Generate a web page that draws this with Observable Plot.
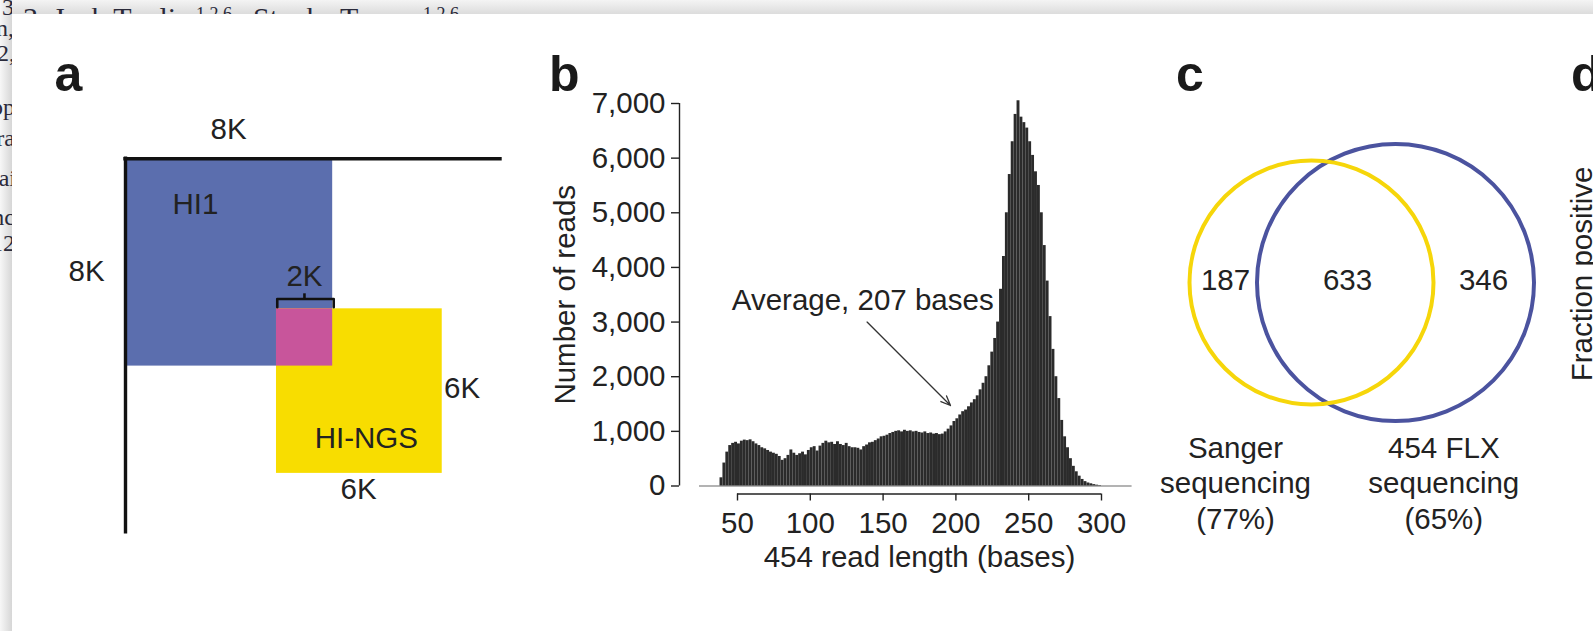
<!DOCTYPE html>
<html>
<head>
<meta charset="utf-8">
<script src="https://cdn.jsdelivr.net/npm/d3@7"></script>
<script src="https://cdn.jsdelivr.net/npm/@observablehq/plot@0.6"></script>
<style>
  html, body { margin:0; padding:0; background:#fff; }
  #page { position:relative; width:1593px; height:631px; overflow:hidden; background:#fff; font-family:"Liberation Sans", Arial, Helvetica, sans-serif; }
  #topstrip { position:absolute; left:0; top:0; width:1593px; height:14px; background:linear-gradient(to bottom,#f4f4f4,#dcdcdc); overflow:hidden; }
  #leftstrip { position:absolute; left:0; top:0; width:12px; height:631px; background:linear-gradient(to right,#f7f7f7,#d6d6d6); overflow:hidden; }
  .bgtext { position:absolute; font-family:"Liberation Serif","DejaVu Serif",serif; color:#2a2a3a; white-space:nowrap; line-height:20px; }
  #panel { position:absolute; left:12px; top:14px; width:1581px; height:617px; background:#fff; overflow:hidden; }
  .letter { position:absolute; top:35.2px; font-weight:bold; font-size:50px; line-height:1; color:#1a1a1a; }
</style>
</head>
<body>
<div id="page">
  <div id="topstrip">
    <div class="bgtext" style="left:23px; top:8px; font-size:30px;">3, Jack Toolin</div>
    <div class="bgtext" style="left:196px; top:4px; font-size:18px;">1,2,6</div>
    <div class="bgtext" style="left:238px; top:8px; font-size:30px;">, Stocks Tan</div>
    <div class="bgtext" style="left:423px; top:4px; font-size:18px;">1,2,6</div>
  </div>
  <div id="leftstrip">
    <div class="bgtext" style="right:-2px; top:-3px; font-size:24px;">al 3</div>
    <div class="bgtext" style="right:-2px; top:18px; font-size:24px;">son,</div>
    <div class="bgtext" style="right:-3px; top:43px; font-size:24px;">12,</div>
    <div class="bgtext" style="right:-3px; top:97px; font-size:24px;">app</div>
    <div class="bgtext" style="right:-3px; top:128px; font-size:24px;">ra</div>
    <div class="bgtext" style="right:-4px; top:168px; font-size:24px;">mai</div>
    <div class="bgtext" style="right:-3px; top:207px; font-size:24px;">nc</div>
    <div class="bgtext" style="right:-3px; top:233px; font-size:24px;">12</div>
  </div>
  <div id="panel">
    <div class="letter" style="left:42.5px;">a</div>
    <div class="letter" style="left:537px;">b</div>
    <div class="letter" style="left:1164px;">c</div>
    <div class="letter" style="left:1559px;">d</div>
  </div>
</div>
<script>
// ---------------- Panel a: library overlap (sizes in thousands of clones) ----------------
const regionNames = ["HI1", "HI-NGS", "Overlap"];
const regionX1 = [0, 5.83, 5.83];
const regionX2 = [8, 12.23, 8];
const regionY1 = [0, 5.79, 5.79];
const regionY2 = [8, 12.14, 8];
const aLabelText = ["8K", "8K", "HI1", "2K", "6K", "HI-NGS", "6K"];
const aLabelX = [3.98, -1.5, 2.7, 6.91, 13.0, 9.3, 9.0];
const aLabelY = [-1.13, 4.35, 1.77, 4.54, 8.87, 10.8, 12.77];
const aAxisExtent = [14.48, 14.41];
const bracketX = [5.86, 5.86, 8.04, 8.04];
const bracketY = [5.73, 5.41, 5.41, 5.73];
const bracketTick = {x: 6.91, y1: 5.21, y2: 5.41};

// ---------------- Panel b: 454 read length histogram ----------------
const binWidth = 2;
const binStart = d3.range(38, 300, binWidth);
const readCounts = [
  150, 420, 620, 740, 780, 800, 770, 820, 840, 830,
  845, 810, 770, 740, 700, 680, 650, 620, 600, 580,
  540, 470, 500, 560, 660, 600, 560, 590, 620, 570,
  650, 700, 720, 640, 730, 780, 820, 790, 800, 760,
  810, 760, 740, 780, 720, 700, 700, 690, 660, 720,
  750, 790, 800, 830, 860, 900, 910, 930, 960, 980,
  1000, 1010, 990, 1020, 1000, 1010, 990, 1000, 980, 970,
  990, 960, 970, 950, 960, 940, 950, 990, 1040, 1100,
  1180, 1230, 1300, 1360, 1390, 1450, 1520, 1580, 1650, 1760,
  1880, 2000, 2200, 2450, 2700, 3000, 3600, 4200, 5000, 5700,
  6300, 6800, 7050, 6750, 6650, 6550, 6300, 6050, 5750, 5500,
  5000, 4400, 3750, 3100, 2500, 2000, 1600, 1200, 900, 700,
  500, 360, 260, 180, 120, 80, 55, 40, 25, 15, 8
];
const yTicks = [0, 1000, 2000, 3000, 4000, 5000, 6000, 7000];
const xTicks = [50, 100, 150, 200, 250, 300];
const baselineExtent = [23.9, 321];
const xLabel = "454 read length (bases)";
const yLabel = "Number of reads";
const avgNote = "Average, 207 bases";
const avgNoteAt = [136, 3400];
const avgArrowFrom = [139, 3000];
const avgArrowTo = [196.3, 1473];

// ---------------- Panel c: Venn diagram ----------------
const setNames = ["Sanger", "454 FLX"];
const setLabels = ["Sanger\nsequencing\n(77%)", "454 FLX\nsequencing\n(65%)"];
const vennCx = [171, 255];
const vennCy = [282, 282];
const vennR = [122, 138.5];
const regionCounts = [187, 633, 346];
const countX = [85, 207, 343];
const countY = [280, 280, 280];
const setLabelX = [95, 303.3];
const setLabelY = [481.6, 481.6];
const dLabel = "Fraction positive";

// ---------------- styles ----------------
const font = "Liberation Sans, Arial, Helvetica, sans-serif";
const ink = "#222";
const fs = 29.5;
const aColors = {"HI1": "#5b6eae", "HI-NGS": "#f8dd00", "Overlap": "#c8559b"};
const vennColors = {"Sanger": "#f6d60a", "454 FLX": "#4b539f"};
const baseStyle = {background: "transparent", overflow: "visible", fontFamily: font, fontSize: fs + "px", color: ink};

function place(svg, pageLeft) {
  svg.style.position = "absolute";
  svg.style.left = (pageLeft - 12) + "px";
  svg.style.top = "-14px";
  svg.style.maxWidth = "none";
  document.getElementById("panel").appendChild(svg);
}

// Panel a
const aTable = regionNames.map((n, i) => ({name: n, x1: regionX1[i], x2: regionX2[i], y1: regionY1[i], y2: regionY2[i]}));
const aLabels = aLabelText.map((t, i) => ({text: t, x: aLabelX[i], y: aLabelY[i]}));
const bracket = bracketX.map((x, i) => ({x, y: bracketY[i]}));
const plotA = Plot.plot({
  width: 540, height: 631, margin: 0,
  x: {domain: [0, aAxisExtent[0]], range: [125, 500], axis: null},
  y: {domain: [0, aAxisExtent[1]], range: [158.3, 531.7], axis: null},
  color: {type: "identity"},
  style: baseStyle,
  marks: [
    Plot.rect(aTable, {x1: "x1", x2: "x2", y1: "y1", y2: "y2", fill: d => aColors[d.name]}),
    Plot.ruleY([0], {x1: 0, x2: aAxisExtent[0], stroke: "#111", strokeWidth: 3.4, strokeLinecap: "square"}),
    Plot.ruleX([0], {y1: 0, y2: aAxisExtent[1], stroke: "#111", strokeWidth: 3.4, strokeLinecap: "square"}),
    Plot.line(bracket, {x: "x", y: "y", stroke: "#111", strokeWidth: 2.6}),
    Plot.ruleX([bracketTick.x], {y1: bracketTick.y1, y2: bracketTick.y2, stroke: "#111", strokeWidth: 2.6}),
    Plot.text(aLabels, {x: "x", y: "y", text: "text", fontSize: fs, fill: ink})
  ]
});
place(plotA, 0);

// Panel b
const hist = binStart.map((s, i) => ({start: s, end: s + binWidth, count: readCounts[i]}));
const plotB = Plot.plot({
  width: 600, height: 631,
  marginLeft: 139, marginBottom: 137.5, marginTop: 103, marginRight: 20,
  x: {domain: [50, 300], range: [197, 561]},
  y: {domain: [0, 7000], range: [485.5, 103]},
  style: baseStyle,
  marks: [
    Plot.ruleY([0], {x1: baselineExtent[0], x2: baselineExtent[1], stroke: "#9a9a9a", strokeWidth: 1.6}),
    Plot.rect(hist, {x1: "start", x2: "end", y1: () => 0, y2: "count", fill: "#2b2b2b", shapeRendering: "geometricPrecision"}),
    Plot.ruleX([xTicks[0]], {y1: 0, y2: 7000, dx: -58, stroke: ink, strokeWidth: 1.4}),
    Plot.axisY(yTicks, {anchor: "left", tickSize: 8, tickPadding: 6, tickFormat: d3.format(","), label: null, fontSize: fs, strokeWidth: 1.4, fill: ink}),
    Plot.ruleY([0], {x1: xTicks[0], x2: xTicks[xTicks.length - 1], dy: 8, stroke: ink, strokeWidth: 1.4}),
    Plot.axisX(xTicks, {anchor: "bottom", tickSize: 7, tickPadding: 11, label: null, fontSize: fs, strokeWidth: 1.4, fill: ink}),
    Plot.text([175], {x: d => d, frameAnchor: "bottom", dy: 64, lineAnchor: "middle", textAnchor: "middle", text: () => xLabel, fontSize: fs, fill: ink}),
    Plot.text([3500], {y: d => d, frameAnchor: "left", dx: -114, rotate: -90, textAnchor: "middle", lineAnchor: "middle", text: () => yLabel, fontSize: fs, fill: ink}),
    Plot.arrow([{}], {x1: () => avgArrowFrom[0], y1: () => avgArrowFrom[1], x2: () => avgArrowTo[0], y2: () => avgArrowTo[1], stroke: "#333", strokeWidth: 1.3, headLength: 12, headAngle: 45}),
    Plot.text([avgNote], {x: () => avgNoteAt[0], y: () => avgNoteAt[1], text: d => d, fontSize: fs, fill: ink})
  ]
});
place(plotB, 540);

// Panel c
const venn = setNames.map((n, i) => ({name: n, cx: vennCx[i], cy: vennCy[i], r: vennR[i]}));
const counts = regionCounts.map((c, i) => ({text: String(c), x: countX[i], y: countY[i]}));
const sets = setLabels.map((t, i) => ({text: t, x: setLabelX[i], y: setLabelY[i]}));
const plotC = Plot.plot({
  width: 453, height: 631, margin: 0,
  x: {domain: [0, 453], range: [0, 453], axis: null},
  y: {domain: [0, 631], range: [0, 631], axis: null},
  r: {type: "identity"},
  color: {type: "identity"},
  style: baseStyle,
  marks: [
    Plot.dot(venn, {x: "cx", y: "cy", r: "r", stroke: d => vennColors[d.name], strokeWidth: 4, fill: "none"}),
    Plot.text(counts, {x: "x", y: "y", text: "text", fontSize: fs, fill: ink}),
    Plot.text(sets, {x: "x", y: "y", text: "text", fontSize: fs, lineHeight: 1.2, fill: ink}),
    Plot.text([dLabel], {x: () => 441.8, y: () => 273.4, text: d => d, rotate: -90, fontSize: fs, fill: ink})
  ]
});
place(plotC, 1140);
</script>
</body>
</html>
